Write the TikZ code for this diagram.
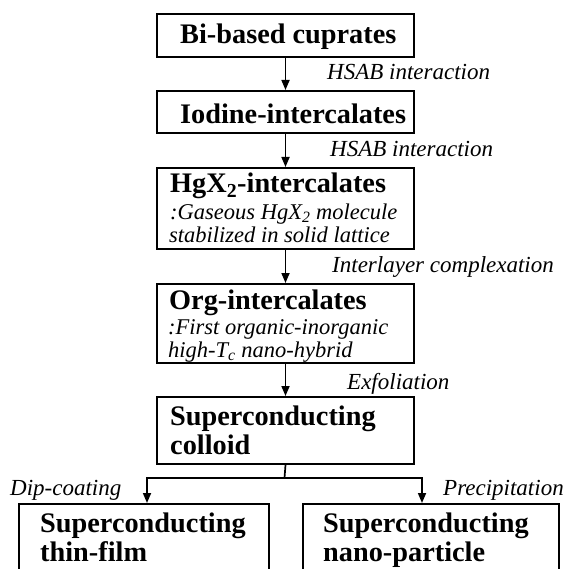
\documentclass[tikz,border=0pt]{standalone}
\usepackage{fontspec}
\setmainfont{Liberation Serif}
\usetikzlibrary{arrows.meta}
\begin{document}
\begin{tikzpicture}[x=1pt,y=-1pt,
  box/.style={draw=black,line width=2pt,rectangle,inner sep=0pt,anchor=north west},
  arr/.style={line width=1.7pt,-{Triangle[length=10pt,width=8pt]}},
  conn/.style={line width=1.7pt},
  bt/.style={inner sep=0pt,anchor=base west,font=\fontsize{28.3}{30}\selectfont\bfseries},
  it/.style={inner sep=0pt,anchor=base west,font=\fontsize{23}{22}\selectfont\itshape},
  its/.style={inner sep=0pt,anchor=base west,font=\fontsize{22.5}{22}\selectfont\itshape}]
\useasboundingbox (0,0) rectangle (567,569);
\clip (0,0) rectangle (567,569);
% boxes
\node[box,minimum width=257pt,minimum height=43pt] (b1) at (156,13) {};
\node[box,minimum width=257pt,minimum height=42pt] (b2) at (156,90) {};
\node[box,minimum width=257pt,minimum height=81pt] (b3) at (156,167) {};
\node[box,minimum width=257pt,minimum height=79pt] (b4) at (156,283) {};
\node[box,minimum width=257pt,minimum height=67pt] (b5) at (156,396) {};
\node[box,minimum width=250pt,minimum height=90pt] (b6) at (18,503) {};
\node[box,minimum width=256pt,minimum height=90pt] (b7) at (302,503) {};
% box texts
\node[bt] (t1) at (180,44) {Bi-based cuprates};
\node[bt] (t2) at (180,124) {Iodine-intercalates};
\node[bt] (t3a) at (170,193) {HgX\textsubscript{2}-intercalates};
\node[its] (t3b) at (170,219) {:Gaseous HgX\textsubscript{2} molecule};
\node[its] (t3c) at (169,242) {stabilized in solid lattice};
\node[bt] (t4a) at (169,309) {Org-intercalates};
\node[its] (t4b) at (168,334) {:First organic-inorganic};
\node[its] (t4c) at (168,357) {high-\textit{T}\textsubscript{c} nano-hybrid};
\node[bt] (t5a) at (170,425) {Superconducting};
\node[bt] (t5b) at (170,454) {colloid};
\node[bt] (t6a) at (40,532) {Superconducting};
\node[bt] (t6b) at (40,561) {thin-film};
\node[bt] (t7a) at (323,532) {Superconducting};
\node[bt] (t7b) at (323,561) {nano-particle};
% arrows
\draw[arr] (b1.south) -- (b2.north);
\draw[arr] (b2.south) -- (b3.north);
\draw[arr] (b3.south) -- (b4.north);
\draw[arr] (b4.south) -- (b5.north);
\coordinate (j) at (284.5,478);
\coordinate (la) at (147,478);
\coordinate (ra) at (422,478);
\draw[conn] (b5.south) -- (j);
\draw[conn] ([xshift=-0.85pt]la) -- ([xshift=0.85pt]ra);
\draw[arr] (la) -- (la |- b6.north);
\draw[arr] (ra) -- (ra |- b7.north);
% labels
\node[it] (l1) at (327,80) {HSAB interaction};
\node[it] (l2) at (330,157) {HSAB interaction};
\node[it] (l3) at (332,272) {Interlayer complexation};
\node[it] (l4) at (347,389) {Exfoliation};
\node[it] (l5) at (10,495) {Dip-coating};
\node[it] (l6) at (443,495) {Precipitation};
\end{tikzpicture}
\end{document}
